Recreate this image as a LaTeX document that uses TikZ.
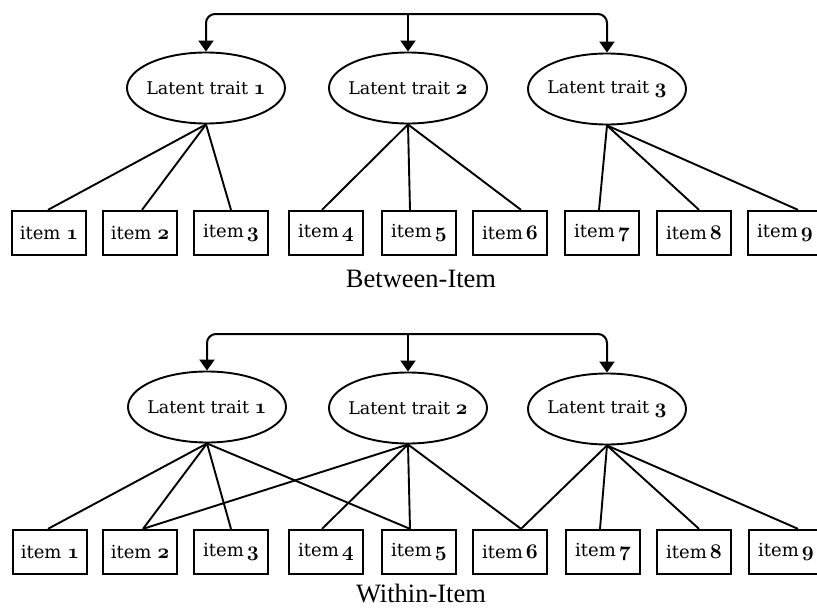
\documentclass[tikz,border=0pt]{standalone}
\usepackage{fontspec}
\setmainfont{Liberation Serif}
\newfontfamily\boxfont{DejaVu Serif}
\usetikzlibrary{arrows.meta,shapes.geometric}
\newcommand\osn[1]{{\fontsize{22}{22}\usefont{OML}{cmm}{b}{it}#1}}
\begin{document}
\begin{tikzpicture}[x=1pt,y=-1pt,
  trait/.style={draw,line width=1.9pt,ellipse,minimum width=158pt,minimum height=71pt,
    inner xsep=-9pt,inner ysep=0pt,
    font=\boxfont\fontsize{17.5}{20}\selectfont},
  itembox/.style={draw,line width=2.3pt,rectangle,minimum width=74pt,minimum height=44pt,inner sep=0pt,
    font=\boxfont\fontsize{18}{20}\selectfont},
  link/.style={line width=1.9pt},
  corr/.style={line width=2pt,rounded corners=9pt},
  tip/.style={-{Triangle[width=15pt,length=11pt]}},
  caption/.style={font=\fontsize{26.5}{30}\selectfont,anchor=base}]
\clip (0,0) rectangle (817,608);
\fill[white] (0,0) rectangle (817,608);

% ---------- Between-Item ----------
\node[trait] (a1) at (206,88) {Latent trait \osn{1}};
\node[trait] (a2) at (408,88) {Latent trait \osn{2}};
\node[trait] (a3) at (607,89) {Latent trait \osn{3}};
\coordinate (atop) at (408,14);
\draw[corr,{Triangle[width=15pt,length=11pt]}-{Triangle[width=15pt,length=11pt]}]
  (a1.north) -- (a1.north |- atop) -- (a3.north |- atop) -- (a3.north);
\draw[corr,tip] (atop) -- (a2.north);

\node[itembox] (b1) at (49,233) {item \osn{1}};
\node[itembox] (b2) at (140,233) {item \osn{2}};
\node[itembox] (b3) at (231,233) {item\,\osn{3}};
\node[itembox] (b4) at (326,233) {item\,\osn{4}};
\node[itembox] (b5) at (419,233) {item\,\osn{5}};
\node[itembox] (b6) at (510,233) {item\,\osn{6}};
\node[itembox] (b7) at (602,233) {item\,\osn{7}};
\node[itembox] (b8) at (694,233) {item\,\osn{8}};
\node[itembox] (b9) at (785,233) {item\,\osn{9}};

\draw[link] (a1.south) -- ([xshift=-1pt]b1.north);
\draw[link] (a1.south) -- ([xshift=2pt]b2.north);
\draw[link] (a1.south) -- (b3.north);
\draw[link] (a2.south) -- ([xshift=-4pt]b4.north);
\draw[link] (a2.south) -- ([xshift=-9pt]b5.north);
\draw[link] (a2.south) -- ([xshift=11pt]b6.north);
\draw[link] (a3.south) -- ([xshift=-3pt]b7.north);
\draw[link] (a3.south) -- ([xshift=5pt]b8.north);
\draw[link] (a3.south) -- ([xshift=13pt]b9.north);

\node[caption] (cap1) at (421,287) {Between-Item};

% ---------- Within-Item ----------
\node[trait] (w1) at (207,407) {Latent trait \osn{1}};
\node[trait] (w2) at (408,408) {Latent trait \osn{2}};
\node[trait] (w3) at (607,409) {Latent trait \osn{3}};
\coordinate (wtop) at (408,334);
\draw[corr,{Triangle[width=15pt,length=11pt]}-{Triangle[width=15pt,length=11pt]}]
  (w1.north) -- (w1.north |- wtop) -- (w3.north |- wtop) -- (w3.north);
\draw[corr,tip] (wtop) -- (w2.north);

\node[itembox] (c1) at (50,552) {item \osn{1}};
\node[itembox] (c2) at (140,552) {item \osn{2}};
\node[itembox] (c3) at (231,552) {item\,\osn{3}};
\node[itembox] (c4) at (326,552) {item\,\osn{4}};
\node[itembox] (c5) at (419,552) {item\,\osn{5}};
\node[itembox] (c6) at (510,552) {item\,\osn{6}};
\node[itembox] (c7) at (603,552) {item\,\osn{7}};
\node[itembox] (c8) at (694,552) {item\,\osn{8}};
\node[itembox] (c9) at (786,552) {item\,\osn{9}};

\draw[link] (w1.south) -- ([xshift=-2pt]c1.north);
\draw[link] (w1.south) -- ([xshift=3pt]c2.north);
\draw[link] (w1.south) -- (c3.north);
\draw[link] (w1.south) -- ([xshift=-9pt]c5.north);
\draw[link] (w2.south) -- ([xshift=3pt]c2.north);
\draw[link] (w2.south) -- ([xshift=-4pt]c4.north);
\draw[link] (w2.south) -- ([xshift=-9pt]c5.north);
\draw[link] (w2.south) -- ([xshift=11pt]c6.north);
\draw[link] (w3.south) -- ([xshift=11pt]c6.north);
\draw[link] (w3.south) -- ([xshift=-3pt]c7.north);
\draw[link] (w3.south) -- ([xshift=5pt]c8.north);
\draw[link] (w3.south) -- ([xshift=12pt]c9.north);

\node[caption] (cap2) at (421,602) {Within-Item};
\end{tikzpicture}
\end{document}
